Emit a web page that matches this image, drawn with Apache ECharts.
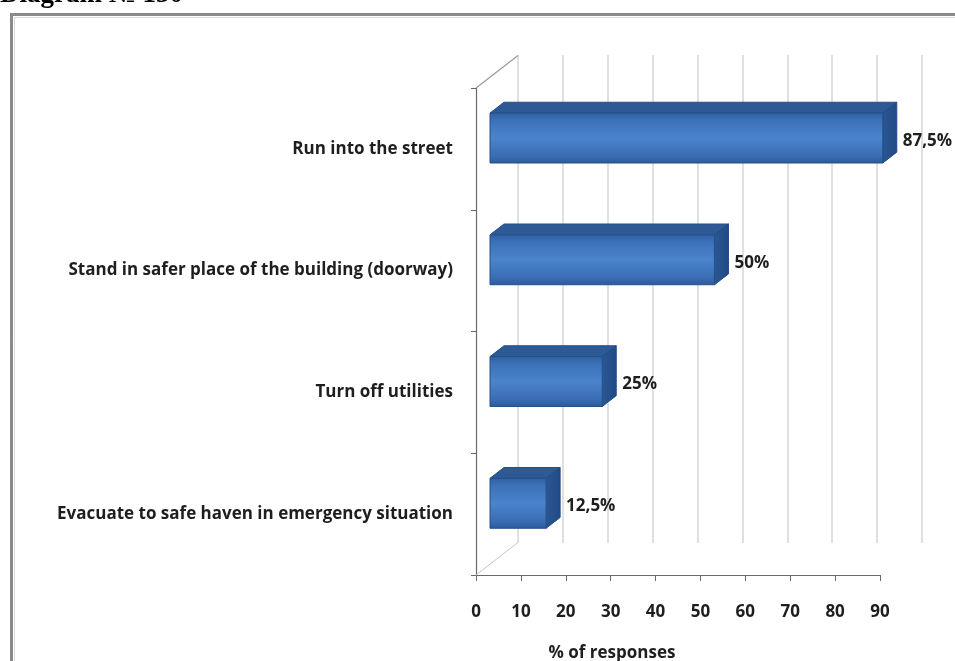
<!DOCTYPE html>
<html><head><meta charset="utf-8">
<script src="https://cdn.jsdelivr.net/npm/echarts@6/dist/echarts.min.js"></script>
<style>html,body{margin:0;padding:0;background:#fff;overflow:hidden}#c{width:955px;height:661px}</style>
</head><body><div id="c"></div>
<script>
// ---- data ----
const categories = [
  'Run into the street',
  'Stand in safer place of the building (doorway)',
  'Turn off utilities',
  'Evacuate to safe haven in emergency situation'
];
const values = [87.5, 50, 25, 12.5];
const valueLabels = ['87,5%', '50%', '25%', '12,5%'];
const axisMin = 0, axisMax = 90, axisStep = 10;
const chartTitle = 'Diagram \u2116 130';
const axisTitle = '% of responses';

// ---- style constants (3D look) ----
const DX = 42, DY = -32.5;          // depth of the back wall
const LABEL_FONT = '"Open Sans", "DejaVu Sans", sans-serif';
const FS = 17;

const barData = values.map((v, i) => [v, i]);

function renderBar(params, api) {
  const v = api.value(0), cat = api.value(1);
  const p0 = api.coord([0, cat]);
  const p1 = api.coord([v, cat]);
  const band = api.size([0, 1])[1];
  const h = band * 0.41;
  const fx = DX / 3, fy = DY / 3;     // bar sits in middle third of depth
  const L = p0[0] + fx, R = p1[0] + fx;
  const T = p0[1] - h / 2 + fy, B = p0[1] + h / 2 + fy;
  const front = {
    type: 'rect', shape: {x: L, y: T, width: R - L, height: B - T},
    style: {
      fill: new echarts.graphic.LinearGradient(0, 0, 0, 1, [
        {offset: 0, color: '#2f5f9f'},
        {offset: 0.15, color: '#3c71b8'},
        {offset: 0.5, color: '#4a84cc'},
        {offset: 0.85, color: '#3a6db3'},
        {offset: 1, color: '#2c5a98'}
      ]),
      stroke: '#23508c', lineWidth: 1
    }
  };
  const top = {
    type: 'polygon',
    shape: {points: [[L, T], [R, T], [R + fx, T + fy], [L + fx, T + fy]]},
    style: {fill: '#2d5a94', stroke: '#23508c', lineWidth: 1}
  };
  const side = {
    type: 'polygon',
    shape: {points: [[R, T], [R + fx, T + fy], [R + fx, B + fy], [R, B]]},
    style: {
      fill: new echarts.graphic.LinearGradient(0, 0, 1, 0, [
        {offset: 0, color: '#2b5793'},
        {offset: 1, color: '#1f4a85'}
      ]),
      stroke: '#1f4a85', lineWidth: 1
    }
  };
  const label = {
    type: 'text',
    style: {
      text: valueLabels[params.dataIndex],
      x: R + fx + 6, y: (T + B) / 2 + 3,
      verticalAlign: 'middle', align: 'left',
      font: 'bold ' + FS + 'px ' + LABEL_FONT, fill: '#1e1e1e'
    }
  };
  return {type: 'group', children: [top, side, front, label]};
}

function renderWalls(params, api) {
  const cs = params.coordSys;
  const x0 = cs.x, y0 = cs.y, y1 = cs.y + cs.height;
  return {
    type: 'group', silent: true,
    children: [
      {type: 'line', shape: {x1: x0, y1: y0, x2: x0 + DX, y2: y0 + DY}, style: {stroke: '#9a9a9a', lineWidth: 1.2}},
      {type: 'line', shape: {x1: x0, y1: y1, x2: x0 + DX, y2: y1 + DY}, style: {stroke: '#c8c8c8', lineWidth: 1}}
    ]
  };
}

const chart = echarts.init(document.getElementById('c'), null, {renderer: 'canvas'});
chart.setOption({
  backgroundColor: '#ffffff',
  animation: false,
  textStyle: {fontFamily: LABEL_FONT},
  graphic: [
    {type: 'rect', left: 9, top: 12, z: 0,
     shape: {width: 1000, height: 700},
     style: {fill: null, stroke: '#8a8a8a', lineWidth: 3}},
    {type: 'rect', left: 12, top: 15, z: 0,
     shape: {width: 1000, height: 700},
     style: {fill: null, stroke: '#d8d8d8', lineWidth: 1}},
    {type: 'text', x: 0, y: 9, z: 10,
     style: {text: chartTitle, font: 'bold 27px "Liberation Serif", serif', fill: '#000', verticalAlign: 'bottom'}}
  ],
  grid: [
    {left: 476, right: 75, top: 88, bottom: 86, containLabel: false, outerBoundsMode: 'none'},
    {left: 518, right: 33, top: 55, bottom: 118, containLabel: false, outerBoundsMode: 'none'}
  ],
  xAxis: [
    {
      gridIndex: 0, type: 'value', min: axisMin, max: axisMax, interval: axisStep,
      axisLine: {show: true, lineStyle: {color: '#6a6a6a', width: 1.2}},
      axisTick: {show: true, length: 6, lineStyle: {color: '#6a6a6a'}},
      splitLine: {show: false},
      axisLabel: {margin: 29, color: '#1e1e1e', fontWeight: 'bold', fontSize: FS, fontFamily: LABEL_FONT},
      name: axisTitle, nameLocation: 'middle', nameGap: 70,
      nameTextStyle: {color: '#1e1e1e', fontWeight: 'bold', fontSize: FS, fontFamily: LABEL_FONT, padding: [0, 132, 0, 0]}
    },
    {
      gridIndex: 1, type: 'value', min: axisMin, max: axisMax, interval: axisStep,
      axisLine: {show: false}, axisTick: {show: false}, axisLabel: {show: false},
      splitLine: {show: true, lineStyle: {color: '#d6d6d6', width: 1.5}}
    }
  ],
  yAxis: [
    {
      gridIndex: 0, type: 'category', data: categories, inverse: true,
      axisLine: {show: true, lineStyle: {color: '#6a6a6a', width: 1.2}},
      axisTick: {show: true, length: 5, lineStyle: {color: '#6a6a6a'}},
      splitLine: {show: false},
      axisLabel: {margin: 23, color: '#1e1e1e', fontWeight: 'bold', fontSize: FS, fontFamily: LABEL_FONT}
    },
    {
      gridIndex: 1, type: 'category', data: categories, inverse: true,
      axisLine: {show: false}, axisTick: {show: false}, axisLabel: {show: false}, splitLine: {show: false}
    }
  ],
  series: [
    {
      type: 'custom', name: 'walls', xAxisIndex: 0, yAxisIndex: 0,
      renderItem: renderWalls, data: [[0, 0]], z: 1, silent: true
    },
    {
      type: 'custom', name: '% of responses', xAxisIndex: 0, yAxisIndex: 0,
      encode: {x: 0, y: 1}, renderItem: renderBar, data: barData, z: 5
    }
  ]
});
</script>
</body></html>
